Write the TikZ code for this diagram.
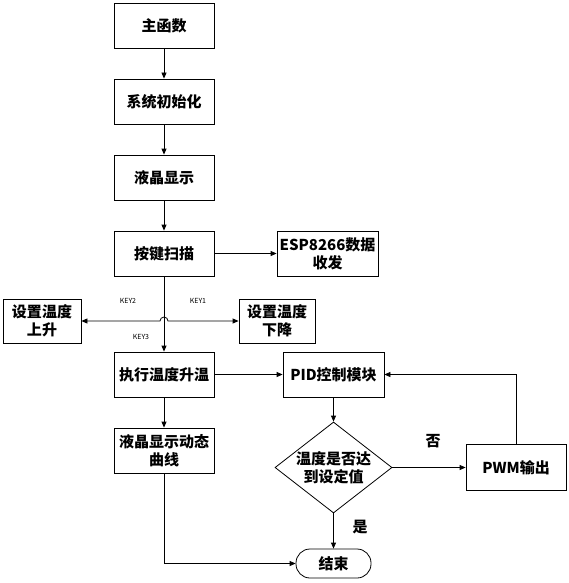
\documentclass[tikz,border=0pt]{standalone}
\usepackage{fontspec}
\setmainfont{Noto Sans CJK SC}
\usetikzlibrary{shapes.geometric,arrows.meta}

\begin{document}
\begin{tikzpicture}[x=1pt,y=-1pt,
    box/.style={draw,line width=0.8pt,minimum width=100pt,minimum height=45pt,inner sep=0pt,align=center,font=\fontsize{15}{18}\selectfont\bfseries},
    judgebox/.style={draw,diamond,line width=0.8pt,aspect=1.29,inner sep=-4pt,minimum width=117pt,minimum height=91pt,align=center,font=\fontsize{15}{18}\selectfont\bfseries},
    endbox/.style={draw,line width=0.8pt,rounded corners=14pt,minimum width=75pt,minimum height=29pt,inner sep=0pt,font=\fontsize{15}{18}\selectfont\bfseries},
    keylabel/.style={font=\fontsize{7}{8}\selectfont},
    arr/.style={line width=0.8pt,-{Triangle[length=6pt,width=5pt]}}]
    \useasboundingbox (0,0) rectangle (569,583);
    \node[box] (main) at (164,25.5) {主函数};
    \node[box] (init) at (164,101.5) {系统初始化};
    \node[box] (lcd) at (164,177.5) {液晶显示};
    \node[box] (key) at (164,253.5) {按键扫描};
    \node[box,minimum width=101pt] (esp) at (327.5,253.5) {ESP8266数据\\收发};
    \node[box,minimum width=78pt,minimum height=44pt] (up) at (42,321) {设置温度\\上升};
    \node[box,minimum width=76pt,minimum height=44pt] (dn) at (277,321) {设置温度\\下降};
    \node[box] (heat) at (164,374.5) {执行温度升温};
    \node[box,minimum width=101pt] (pid) at (333.5,374.5) {PID控制模块};
    \node[box] (curve) at (164,450.5) {液晶显示动态\\曲线};
    \node[judgebox] (judge) at (333.5,467.5) {温度是否达\\到设定值};
    \node[box,minimum height=46pt] (pwm) at (516,467.5) {PWM输出};
    \node[endbox] (end) at (333.5,563.5) {结束};
    \coordinate (hop) at (key.south |- up.east);
    \draw[arr] (main) -- (init);
    \draw[arr] (init) -- (lcd);
    \draw[arr] (lcd) -- (key);
    \draw[arr] (key) -- (esp);
    \draw[arr] (key) -- (heat);
    \draw[arr,{Triangle[length=6pt,width=5pt]}-{Triangle[length=6pt,width=5pt]}] (up.east) -- ([xshift=-4pt]hop) arc[start angle=180,end angle=360,radius=4] -- (dn.west);
    \node[keylabel] (k2) at (128,301) {KEY2};
    \node[keylabel] (k1) at (198,301) {KEY1};
    \node[keylabel] (k3) at (141,337) {KEY3};
    \draw[arr] (heat) -- (pid);
    \draw[arr] (heat) -- (curve);
    \draw[arr] (pid) -- (judge);
    \draw[arr] (judge) -- (pwm);
    \draw[arr] (pwm.north) |- (pid.east);
    \draw[arr] (judge) -- (end);
    \draw[arr] (curve.south) |- (end.west);
    \node[font=\fontsize{15}{18}\selectfont\bfseries] (no) at (433,441) {否};
    \node[font=\fontsize{15}{18}\selectfont\bfseries] (yes) at (360,527) {是};
\end{tikzpicture}
\end{document}
